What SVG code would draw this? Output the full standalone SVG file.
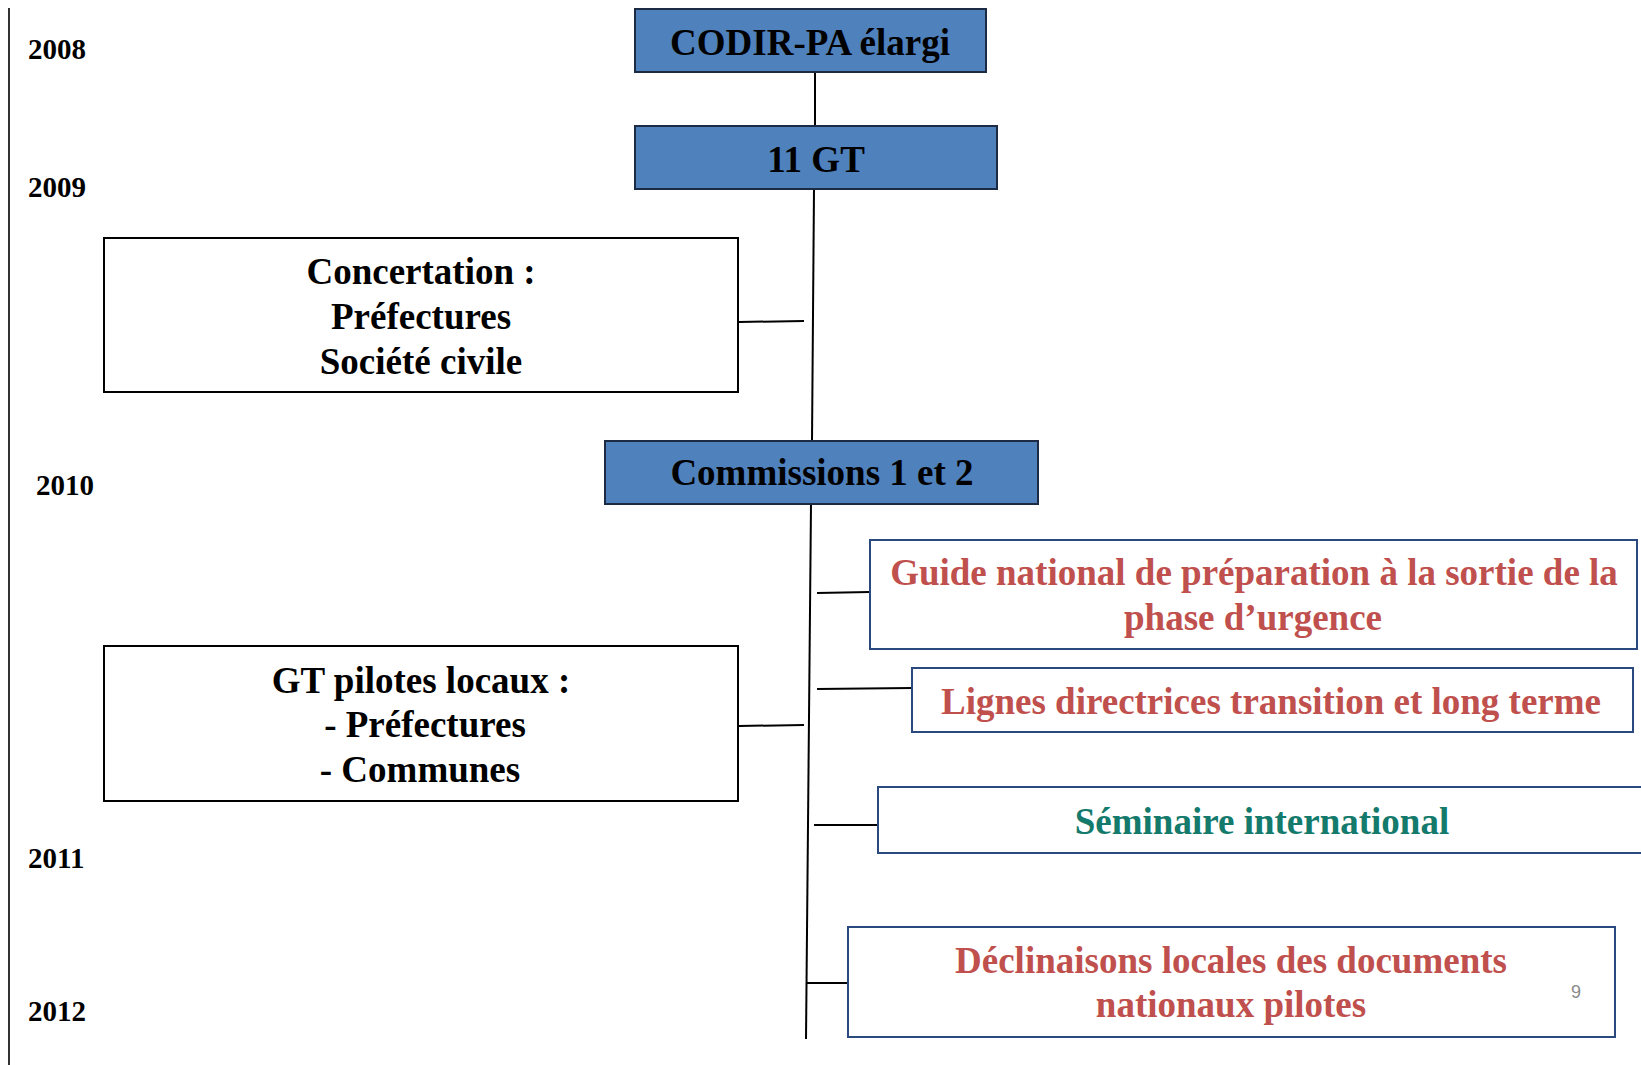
<svg xmlns="http://www.w3.org/2000/svg" width="1641" height="1065" viewBox="0 0 1641 1065">
<style>
.bg{fill:#ffffff}
.blue{fill:#4F81BD;stroke:#1c2a44;stroke-width:2}
.white{fill:#ffffff;stroke:#000000;stroke-width:2}
.wblue{fill:#ffffff;stroke:#2a4a7f;stroke-width:2}
.t{font-family:"Liberation Serif","Times New Roman",serif;font-weight:bold;font-size:37px;text-anchor:middle;fill:#000}
.red{fill:#C0504D}
.teal{fill:#137A6C}
.yr{font-family:"Liberation Serif","Times New Roman",serif;font-weight:bold;font-size:29px;fill:#000}
.pg{font-family:"Liberation Sans",Arial,sans-serif;font-size:18px;fill:#8a8a8a}
.ln{stroke:#000;stroke-width:2;fill:none}
</style>
<rect class="bg" x="0" y="0" width="1641" height="1065"/>
<line x1="9" y1="8" x2="9" y2="1065" stroke="#333" stroke-width="2"/>
<g id="years">
<text class="yr" x="28" y="59">2008</text>
<text class="yr" x="28" y="197">2009</text>
<text class="yr" x="36" y="495">2010</text>
<text class="yr" x="28" y="868">2011</text>
<text class="yr" x="28" y="1021">2012</text>
</g>
<g id="connectors">
<path class="ln" d="M815 72 L815 126"/>
<path class="ln" d="M814 189 L812 441"/>
<path class="ln" d="M811 504 L806 1039"/>
<path class="ln" d="M739 322 L804 321"/>
<path class="ln" d="M739 726 L804 725"/>
<path class="ln" d="M817 593 L870 592"/>
<path class="ln" d="M817 689 L912 688"/>
<path class="ln" d="M814 825 L878 825"/>
<path class="ln" d="M807 983 L848 983"/>
</g>
<g id="codir">
<rect class="blue" x="635" y="9" width="351" height="63"/>
<text class="t" x="810" y="55">CODIR-PA élargi</text>
</g>
<g id="gt11">
<rect class="blue" x="635" y="126" width="362" height="63"/>
<text class="t" x="816" y="172">11 GT</text>
</g>
<g id="concertation">
<rect class="white" x="104" y="238" width="634" height="154"/>
<text class="t" x="421" y="284">Concertation :</text>
<text class="t" x="421" y="329">Préfectures</text>
<text class="t" x="421" y="374">Société civile</text>
</g>
<g id="commissions">
<rect class="blue" x="605" y="441" width="433" height="63"/>
<text class="t" x="822" y="485">Commissions 1 et 2</text>
</g>
<g id="guide">
<rect class="wblue" x="870" y="540" width="767" height="109"/>
<text class="t red" x="1254" y="585">Guide national de préparation à la sortie de la</text>
<text class="t red" x="1253" y="630">phase d’urgence</text>
</g>
<g id="lignes">
<rect class="wblue" x="912" y="668" width="721" height="64"/>
<text class="t red" x="1271" y="714">Lignes directrices transition et long terme</text>
</g>
<g id="gtpilotes">
<rect class="white" x="104" y="646" width="634" height="155"/>
<text class="t" x="421" y="693">GT pilotes locaux :</text>
<text class="t" x="425" y="737">- Préfectures</text>
<text class="t" x="420" y="782">- Communes</text>
</g>
<g id="seminaire">
<rect class="wblue" x="878" y="787" width="780" height="66"/>
<text class="t teal" x="1262" y="834">Séminaire international</text>
</g>
<g id="declinaisons">
<rect class="wblue" x="848" y="927" width="767" height="110"/>
<text class="t red" x="1231" y="973">Déclinaisons locales des documents</text>
<text class="t red" x="1231" y="1017">nationaux pilotes</text>
</g>
<text class="pg" x="1571" y="998">9</text>
</svg>
